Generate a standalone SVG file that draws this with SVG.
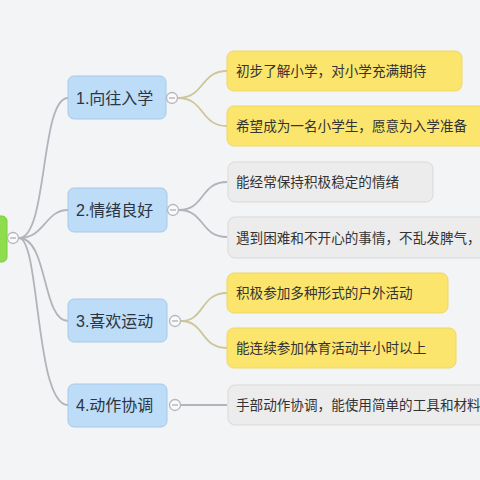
<svg xmlns="http://www.w3.org/2000/svg" width="480" height="480" viewBox="0 0 480 480">
<style>
.bg{fill:#f3f4f6}
.main rect{fill:#bddcf7;stroke:#a6c8ea;stroke-width:1}
.main text{font-family:"Liberation Sans","Noto Sans CJK SC",sans-serif;font-size:16px;fill:#2b3440}
.leaf text{font-family:"Noto Sans CJK SC",sans-serif;font-size:13.6px;fill:#333}
.y rect{fill:#fbe56c;stroke:#eed766;stroke-width:1}
.g rect{fill:#ececec;stroke:#d9d9d9;stroke-width:1}
.c{fill:#fafafa;stroke:#b5b5bd;stroke-width:1.3}
.cl{stroke:#9a9aa2;stroke-width:1}
.e{fill:none;stroke:#b3b3bb;stroke-width:1.8}
.ey{fill:none;stroke:#cdc69a;stroke-width:1.8}
</style>
<rect class="bg" x="0" y="0" width="480" height="480"/>
<g id="connectors">
<path class="e" d="M19 238 C48 238 40 98 68 98"/>
<path class="e" d="M19 238 C45 238 45 210 68 210"/>
<path class="e" d="M19 238 C48 238 42 321 68 321"/>
<path class="e" d="M19 238 C40 238 35 405 68 405"/>
<path class="ey" d="M178 98 C205 98 200 71 227 71"/>
<path class="ey" d="M178 98 C205 98 200 126 227 126"/>
<path class="e" d="M179 210 C205 210 200 182 227 182"/>
<path class="e" d="M179 210 C205 210 200 237 227 237"/>
<path class="ey" d="M181 321 C205 321 200 293 227 293"/>
<path class="ey" d="M181 321 C205 321 200 348 227 348"/>
<path class="e" d="M181 405 L227 405"/>
</g>
<g id="root">
<rect x="-10" y="216" width="17" height="46" rx="5" fill="#8fdd4e" stroke="#7ccd3c"/>
<circle class="c" cx="13" cy="238" r="5.5"/>
<line class="cl" x1="10" y1="238" x2="16" y2="238"/>
</g>
<g id="n1" class="main">
<rect x="68" y="76" width="98" height="43" rx="6"/>
<text x="76" y="104">1.向往入学</text>
<circle class="c" cx="172" cy="98" r="5.5"/>
<line class="cl" x1="169" y1="98" x2="175" y2="98"/>
</g>
<g id="n2" class="main">
<rect x="68" y="188" width="99" height="44" rx="6"/>
<text x="76" y="216">2.情绪良好</text>
<circle class="c" cx="173" cy="210" r="5.5"/>
<line class="cl" x1="170" y1="210" x2="176" y2="210"/>
</g>
<g id="n3" class="main">
<rect x="68" y="299" width="99" height="43" rx="6"/>
<text x="76" y="327">3.喜欢运动</text>
<circle class="c" cx="175" cy="321" r="5.5"/>
<line class="cl" x1="172" y1="321" x2="178" y2="321"/>
</g>
<g id="n4" class="main">
<rect x="68" y="384" width="99" height="43" rx="6"/>
<text x="76" y="411">4.动作协调</text>
<circle class="c" cx="175" cy="405" r="5.5"/>
<line class="cl" x1="172" y1="405" x2="178" y2="405"/>
</g>
<g id="l1" class="leaf y">
<rect x="227" y="51" width="235" height="40" rx="7"/>
<text x="236" y="76">初步了解小学，对小学充满期待</text>
</g>
<g id="l2" class="leaf y">
<rect x="227" y="106" width="270" height="40" rx="7"/>
<text x="236" y="131">希望成为一名小学生，愿意为入学准备</text>
</g>
<g id="l3" class="leaf g">
<rect x="228" y="162" width="205" height="40" rx="7"/>
<text x="236" y="187">能经常保持积极稳定的情绪</text>
</g>
<g id="l4" class="leaf g">
<rect x="228" y="217" width="270" height="41" rx="7"/>
<text x="236" y="243">遇到困难和不开心的事情，不乱发脾气，</text>
</g>
<g id="l5" class="leaf y">
<rect x="227" y="273" width="221" height="40" rx="7"/>
<text x="236" y="298">积极参加多种形式的户外活动</text>
</g>
<g id="l6" class="leaf y">
<rect x="227" y="328" width="229" height="40" rx="7"/>
<text x="236" y="353">能连续参加体育活动半小时以上</text>
</g>
<g id="l7" class="leaf g">
<rect x="228" y="385" width="270" height="40" rx="7"/>
<text x="236" y="410">手部动作协调，能使用简单的工具和材料</text>
</g>
</svg>
